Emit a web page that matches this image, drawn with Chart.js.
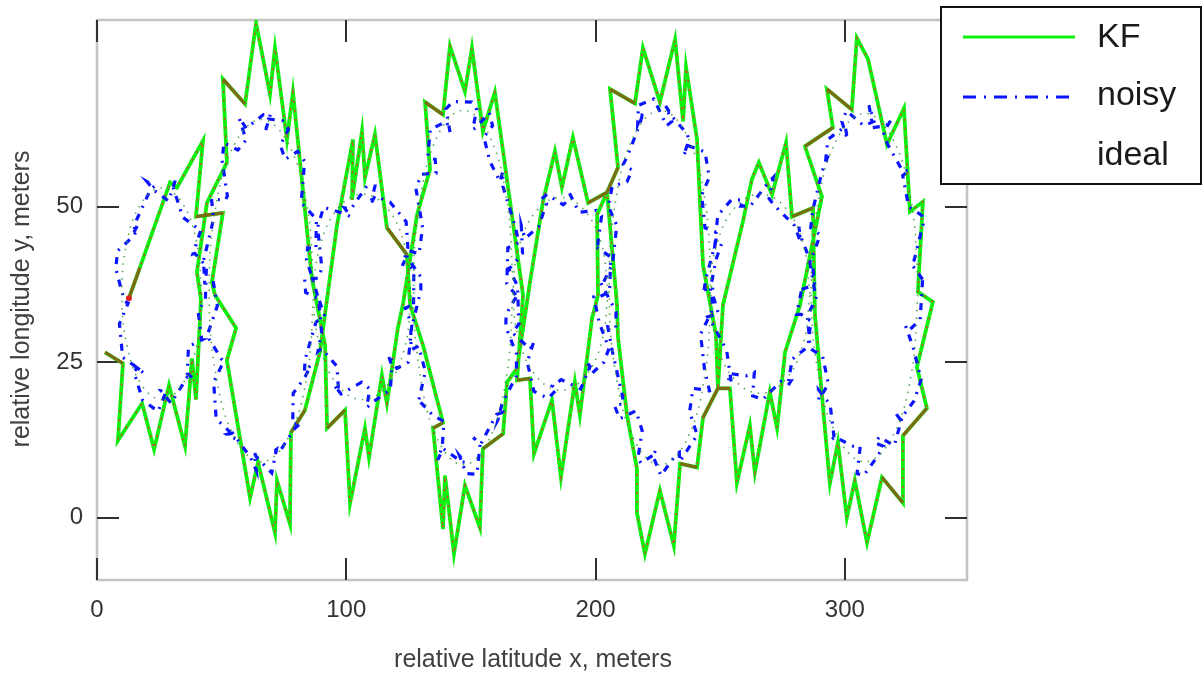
<!DOCTYPE html>
<html lang="en">
<head>
<meta charset="UTF-8">
<title>KF track</title>
<script src="https://cdn.jsdelivr.net/npm/chart.js@4"></script>
<style>
    html, body { margin: 0; padding: 0; background: #fff; }
    #wrap { width: 1204px; height: 675px; }
</style>
</head>
<body>
<div id="wrap"><canvas id="trackChart" width="1204" height="675"></canvas></div>
<script>
// axis ticks
const xTicks = [0, 100, 200, 300];
const yTicks = [0, 25, 50];

// KF estimate, outbound pass (small loop tops, big loop bottoms)
const kfOut = [
    [12.8,35.3],[17.2,40.2],[29.3,53.9],[32.1,53.1],[42.5,60.6],[39.7,48.4],[50.5,49.0],[46.1,37.9],
    [47.3,35.8],[55.8,30.5],[52.1,25.3],[61.4,3.2],[64.6,8.9],[71.4,-2.4],[72.2,6.0],[77.4,-1.0],
    [77.8,13.7],[83.4,17.3],[89.4,26.6],[96.3,47.1],[102.7,60.8],[102.3,51.1],[106.3,62.1],[107.5,54.7],
    [111.5,61.6],[116.3,46.6],[124.3,42.3],[125.6,34.2],[130.8,27.7],[138.8,15.3],[134.8,14.4],[138.8,-1.8],
    [139.6,6.8],[143.2,-5.8],[147.6,5.2],[153.6,-1.6],[154.8,11.1],[162.9,13.5],[164.5,21.8],[168.5,24.0],
    [173.7,37.9],[178.9,50.8],[183.7,58.9],[186.5,53.1],[190.9,61.1],[197.0,50.6],[204.6,52.3],[208.6,34.2],
    [209.0,29.0],[212.6,16.5],[216.6,7.9],[216.6,0.8],[219.8,-5.8],[225.8,4.4],[231.4,-4.5],[233.9,8.7],
    [240.7,8.1],[243.1,16.1],[249.1,20.8],[251.1,34.2],[259.1,47.6],[262.7,54.4],[265.5,57.1],[270.8,51.9],
    [276.4,60.3],[278.8,48.4],[287.2,49.8],[288.0,32.6],[290.8,19.7],[294.0,5.5],[297.2,12.1],[300.8,0.0],
    [304.0,6.0],[308.9,-4.0],[314.9,6.5],[323.3,2.4],[323.3,13.2],[332.9,17.6],[328.9,24.2],[335.3,34.7]
];

// KF estimate, return pass (big loop tops, small loop bottoms)
const kfBack = [
    [329.3,36.3],[331.3,50.8],[326.1,49.2],[323.7,65.8],[316.9,60.0],[309.3,73.7],[304.8,77.1],[302.8,65.6],
    [292.8,68.9],[295.2,62.7],[284.0,59.7],[290.8,51.6],[282.0,34.2],[276.0,26.6],[272.8,14.4],[269.9,20.2],
    [263.9,7.3],[261.9,14.8],[256.7,5.6],[253.9,20.8],[249.1,20.8],[248.3,29.4],[243.1,40.6],[240.7,60.8],
    [236.3,72.4],[235.1,63.7],[231.9,76.9],[225.8,66.8],[219.0,75.5],[215.8,66.6],[205.8,68.9],[209.0,56.3],
    [204.6,52.3],[200.6,48.7],[201.0,35.8],[198.6,32.1],[193.7,16.5],[191.7,21.8],[186.1,6.5],[182.5,18.9],
    [175.3,10.3],[173.7,22.4],[168.5,22.1],[170.9,35.8],[159.6,68.4],[154.8,62.1],[150.4,75.5],[147.6,68.5],
    [141.6,75.8],[138.8,64.8],[131.6,66.8],[133.6,56.0],[128.4,48.7],[122.7,34.2],[120.7,30.5],[116.3,18.4],
    [114.3,22.9],[109.1,9.7],[107.5,14.4],[101.5,2.3],[99.5,17.3],[92.3,14.4],[91.5,27.7],[86.2,38.5],
    [78.6,68.4],[76.2,60.8],[71.4,75.5],[69.4,68.1],[63.8,79.5],[59.4,66.5],[50.5,70.5],[52.1,57.1],
    [44.1,50.6],[40.1,39.5],[41.7,35.0],[39.7,19.0],[38.1,25.6],[35.3,11.5],[28.9,21.3],[22.9,11.0],
    [18.1,18.4],[8.4,12.4],[10.4,24.8],[3.2,26.6]
];

// short stretches where the KF trace looks olive (overlapping marks)
const kfOverlap = [
    [3.2,26.6],[10.4,24.8], null, [12.8,35.3],[17.2,40.2], null, [39.7,48.4],[50.5,49.0], null,
    [50.5,70.5],[59.4,66.5], null, [77.8,13.7],[83.4,17.3], null, [92.3,14.4],[99.5,17.3], null,
    [116.3,46.6],[124.3,42.3], null, [131.6,66.8],[138.8,64.8], null, [134.8,14.4],[138.8,15.3], null,
    [154.8,11.1],[162.9,13.5], null, [168.5,22.1],[173.7,22.4], null, [197.0,50.6],[204.6,52.3],[209.0,56.3], null,
    [205.8,68.9],[215.8,66.6], null, [233.9,8.7],[240.7,8.1], null, [243.1,16.1],[249.1,20.8],[253.9,20.8], null,
    [278.8,48.4],[287.2,49.8], null, [284.0,59.7],[295.2,62.7], null, [292.8,68.9],[302.8,65.6], null,
    [314.9,6.5],[323.3,2.4], null, [323.3,13.2],[332.9,17.6]
];

const startPoint = [12.8, 35.3];

// noisy measurements, loop by loop
const noisyPts = [
    [43.5,35.2],[43.9,40.4],[39.2,42.5],[38.5,42.4],[41.7,46.3],[41.1,46.3],[34.4,48.3],[30.4,53.3],[31.4,54.2],[28.7,50.9],
    [23.0,52.6],[20.1,54.0],[23.1,53.3],[21.5,52.8],[15.8,47.8],[14.5,45.6],[16.1,46.9],[15.0,45.4],[8.3,42.9],[7.5,40.1],
    [11.0,34.8],[12.5,34.5],[9.0,31.2],[10.3,25.8],[15.5,24.3],[18.9,23.2],[16.2,24.1],[14.8,23.5],[18.3,18.9],[24.5,17.1],
    [27.7,20.3],[25.7,20.4],[29.7,18.4],[36.2,22.6],[38.6,22.4],[36.2,23.2],[36.7,27.5],[42.2,28.6],[42.0,28.6],[40.6,33.1],[43.5,35.2],
    null,
    [88.5,35.7],[84.0,41.6],[84.5,43.4],[87.8,43.2],[88.0,48.0],[82.0,50.6],[82.0,51.2],[83.3,57.3],[80.5,58.9],[75.5,57.6],
    [73.5,59.9],[76.8,62.4],[74.5,63.8],[68.8,64.1],[67.4,61.9],[69.6,64.9],[66.8,64.8],[59.9,62.6],[57.0,64.3],[59.8,60.7],
    [56.5,59.1],[50.9,60.3],[50.2,57.4],[52.3,51.7],[51.4,51.0],[45.9,51.3],[46.4,49.6],[46.6,47.7],[42.7,41.3],[43.2,37.8],
    [46.7,37.8],[48.3,34.1],[44.3,29.4],[45.0,28.7],[50.0,25.5],[50.9,25.2],[46.8,21.8],[47.8,15.9],[52.8,14.0],[55.5,12.7],
    [52.2,13.4],[54.4,13.6],[61.6,9.7],[63.9,7.6],[63.2,10.5],[63.7,9.9],[70.1,7.2],[72.0,11.0],[69.9,10.4],[73.2,10.6],
    [79.4,14.4],[81.8,15.2],[78.5,15.0],[78.7,20.0],[83.3,22.5],[85.8,24.5],[83.2,23.5],[83.5,25.5],[87.8,31.4],[91.2,32.6],[88.5,35.7],
    null,
    [127.0,34.3],[127.1,39.9],[123.2,41.1],[122.5,40.5],[124.7,43.5],[124.0,47.6],[117.6,50.7],[111.5,51.7],[109.7,50.3],[111.5,53.3],
    [108.2,53.3],[101.8,49.6],[99.3,49.8],[101.8,48.4],[98.2,49.0],[90.9,49.9],[88.5,46.7],[90.2,40.1],[88.8,38.5],[83.3,38.4],
    [83.7,36.2],[88.9,35.2],[90.1,29.8],[88.6,26.7],[90.1,27.2],[96.3,24.3],[96.9,20.3],[95.2,21.3],[97.9,19.9],[106.2,21.8],
    [109.4,20.7],[108.2,17.7],[111.0,18.7],[117.7,20.6],[118.3,24.4],[116.8,26.2],[120.3,24.0],[124.8,25.0],[126.3,31.0],[123.7,33.7],[127.0,34.3],
    null,
    [168.0,35.8],[164.4,37.6],[164.8,43.4],[169.3,44.2],[167.7,46.9],[162.8,53.3],[162.8,55.7],[161.7,54.0],[157.6,57.3],[155.2,61.2],
    [158.7,63.0],[157.4,65.1],[152.0,62.7],[150.7,62.4],[152.3,65.6],[150.3,66.8],[142.7,66.9],[140.0,65.7],[141.6,62.0],[140.2,63.7],
    [133.7,62.4],[132.7,58.0],[135.7,57.6],[136.0,55.4],[130.2,55.2],[127.9,53.0],[130.6,46.7],[129.2,42.4],[124.8,43.0],[124.4,41.9],
    [129.9,38.7],[129.9,36.6],[125.9,30.0],[126.0,27.0],[129.0,27.6],[131.7,23.5],[128.8,18.4],[129.7,18.6],[134.9,16.4],[139.2,15.5],
    [138.5,11.5],[136.7,9.3],[138.8,11.1],[146.3,9.0],[147.7,8.9],[145.4,10.0],[148.1,7.1],[152.4,7.0],[153.7,11.9],[150.9,12.9],
    [154.0,11.9],[160.2,16.6],[162.4,16.9],[160.9,15.8],[162.4,18.2],[168.2,22.8],[168.3,26.3],[164.0,30.7],[164.1,32.7],[168.6,35.8],[168.0,35.8],
    null,
    [202.0,35.6],[205.6,36.3],[206.1,41.9],[200.4,43.5],[200.6,43.1],[202.4,48.5],[200.2,49.4],[193.3,49.1],[189.4,52.3],[191.0,51.8],
    [187.0,50.3],[180.5,52.0],[178.3,51.2],[180.3,50.5],[177.2,46.8],[171.7,44.9],[170.2,47.0],[170.7,42.5],[165.1,39.9],[164.4,40.6],
    [168.7,37.3],[169.2,31.1],[166.7,29.8],[167.3,29.5],[173.8,27.1],[175.2,28.3],[172.6,25.0],[175.3,20.3],[180.9,19.2],[184.6,20.7],
    [182.7,21.2],[186.2,22.2],[194.0,20.7],[197.8,24.3],[196.6,24.9],[198.0,23.0],[203.3,25.0],[205.4,27.2],[201.5,31.3],[199.3,35.5],[202.0,35.6],
    null,
    [243.5,36.6],[244.3,38.5],[248.0,44.0],[248.8,45.8],[243.9,46.6],[242.6,51.9],[245.6,54.7],[243.9,58.8],[237.2,59.8],[235.3,58.2],
    [237.3,60.5],[236.9,61.6],[230.5,64.6],[228.1,66.2],[230.6,63.7],[228.5,63.0],[223.4,67.3],[217.2,66.3],[216.9,63.2],[219.2,65.3],
    [217.5,63.0],[212.8,58.1],[211.1,56.8],[214.7,55.9],[212.6,54.0],[206.7,53.3],[205.1,50.1],[208.5,47.0],[206.8,40.8],[202.5,37.3],
    [202.2,37.7],[208.2,33.1],[208.1,30.5],[204.9,30.7],[206.7,26.8],[210.5,20.1],[211.3,18.3],[207.5,18.1],[209.7,15.9],[216.2,17.2],
    [218.7,14.0],[217.0,9.6],[218.2,8.8],[224.0,10.3],[224.1,10.8],[223.0,10.0],[226.2,6.8],[232.4,10.2],[233.6,10.5],[233.7,9.0],
    [237.8,11.5],[240.8,13.3],[237.7,17.0],[239.1,20.8],[245.4,20.5],[246.1,19.7],[243.7,23.9],[242.1,29.5],[246.5,33.1],[247.0,37.1],[243.5,36.6],
    null,
    [282.7,36.7],[287.9,37.5],[287.1,40.3],[281.9,45.6],[281.6,46.8],[282.2,44.4],[279.7,47.0],[271.7,50.2],[269.6,51.3],[271.3,54.7],
    [268.9,53.7],[262.1,50.1],[258.3,50.1],[259.2,51.1],[254.5,51.1],[249.0,48.6],[247.8,43.6],[250.6,44.1],[248.3,41.5],[245.9,36.4],
    [247.5,35.2],[249.3,32.8],[245.0,32.3],[246.3,31.6],[252.6,26.9],[254.4,21.8],[253.2,21.6],[253.8,23.2],[260.3,22.8],[263.7,23.4],
    [263.0,19.6],[267.1,19.0],[274.2,21.9],[278.4,22.0],[277.0,21.1],[278.9,25.5],[285.2,27.5],[286.4,31.6],[282.5,32.7],[280.6,32.7],[282.7,36.7],
    null,
    [331.2,38.3],[326.5,40.9],[327.8,41.4],[331.4,47.2],[330.9,48.6],[325.6,50.0],[323.2,55.0],[326.0,55.9],[323.2,55.7],[317.2,60.0],
    [315.5,61.9],[318.6,64.0],[316.7,63.0],[311.2,62.7],[309.7,66.3],[311.7,63.7],[307.6,63.0],[300.7,65.4],[298.8,63.7],[301.0,60.8],
    [300.2,62.9],[293.2,60.8],[292.1,56.7],[293.5,58.4],[290.9,55.7],[287.1,49.4],[286.3,46.6],[290.1,45.5],[288.3,43.4],[286.0,41.0],
    [288.0,36.2],[289.0,35.8],[285.0,32.4],[286.1,27.2],[291.1,25.9],[293.4,21.5],[289.6,19.0],[289.4,20.6],[294.1,18.2],[295.7,12.8],
    [294.3,12.4],[295.9,13.0],[303.4,11.5],[306.2,11.5],[304.9,7.1],[307.6,6.8],[313.3,10.0],[315.5,11.5],[312.1,12.0],[313.8,13.0],
    [319.8,11.6],[322.7,15.7],[320.6,16.7],[322.2,15.8],[327.8,18.8],[330.6,22.2],[327.3,27.5],[324.3,30.9],[326.2,30.3],[330.2,31.8],[331.2,38.3]
];

// ideal track, loop by loop
const idealPts = [
    [42,36],[39.9,44.5],[34,50.7],[26,53],[18,50.7],[12.1,44.5],[10,36],[12.1,27.5],[18,21.3],[26,19],[34,21.3],[39.9,27.5],[42,36],
    null,
    [87,36.5],[84.2,50.3],[76.5,60.3],[66,64],[55.5,60.3],[47.8,50.3],[45,36.5],[47.8,22.8],[55.5,12.7],[66,9],[76.5,12.7],[84.2,22.8],[87,36.5],
    null,
    [126,35.5],[123.4,43.8],[116.3,49.8],[106.5,52],[96.8,49.8],[89.6,43.8],[87,35.5],[89.6,27.3],[96.8,21.2],[106.5,19],[116.3,21.2],[123.4,27.3],[126,35.5],
    null,
    [167,37],[164.3,51.3],[157,61.7],[147,65.5],[137,61.7],[129.7,51.3],[127,37],[129.7,22.8],[137,12.3],[147,8.5],[157,12.3],[164.3,22.8],[167,37],
    null,
    [205,36],[202.5,43.8],[195.5,49.4],[186,51.5],[176.5,49.4],[169.5,43.8],[167,36],[169.5,28.3],[176.5,22.6],[186,20.5],[195.5,22.6],[202.5,28.3],[205,36],
    null,
    [246.5,37],[243.8,51.3],[236.3,61.7],[226,65.5],[215.8,61.7],[208.2,51.3],[205.5,37],[208.2,22.8],[215.8,12.3],[226,8.5],[236.3,12.3],[243.8,22.8],[246.5,37],
    null,
    [286,36],[283.3,44],[276,49.9],[266,52],[256,49.9],[248.7,44],[246,36],[248.7,28],[256,22.1],[266,20],[276,22.1],[283.3,28],[286,36],
    null,
    [329.5,37],[326.6,51],[318.8,61.2],[308,65],[297.3,61.2],[289.4,51],[286.5,37],[289.4,23],[297.3,12.8],[308,9],[318.8,12.8],[326.6,23],[329.5,37]
];

const fontFamily = '"Liberation Sans", Arial, sans-serif';

// [x, y] pairs -> chart points, null breaks the line
function toXY(list) {
    let lastX = 0;
    return list.map(p => {
        if (p === null) return {x: lastX, y: null};
        lastX = p[0];
        return {x: p[0], y: p[1]};
    });
}

const kfData = toXY(kfOut.concat(kfBack));

// frame, inward ticks, labels and the boxed legend
const axisDecor = {
    id: 'axisDecor',
    beforeDatasetsDraw(chart) {
        const ctx = chart.ctx, a = chart.chartArea;
        const sx = chart.scales.x, sy = chart.scales.y;
        ctx.save();
        ctx.strokeStyle = '#c4c4c4';
        ctx.lineWidth = 2.5;
        ctx.strokeRect(a.left, a.top, a.right - a.left, a.bottom - a.top);
        ctx.strokeStyle = '#303030';
        ctx.lineWidth = 2;
        ctx.beginPath();
        xTicks.forEach(v => {
            const px = Math.round(sx.getPixelForValue(v));
            ctx.moveTo(px, a.bottom); ctx.lineTo(px, a.bottom - 22);
            ctx.moveTo(px, a.top); ctx.lineTo(px, a.top + 22);
        });
        yTicks.forEach(v => {
            const py = Math.round(sy.getPixelForValue(v));
            ctx.moveTo(a.left, py); ctx.lineTo(a.left + 22, py);
            ctx.moveTo(a.right, py); ctx.lineTo(a.right - 22, py);
        });
        ctx.stroke();
        ctx.restore();
    },
    afterDraw(chart) {
        const ctx = chart.ctx;
        const sx = chart.scales.x, sy = chart.scales.y;
        ctx.save();
        ctx.fillStyle = '#333';
        ctx.font = '24px ' + fontFamily;
        ctx.textAlign = 'center';
        ctx.textBaseline = 'middle';
        xTicks.forEach(v => ctx.fillText(String(v), sx.getPixelForValue(v), 610));
        ctx.textAlign = 'right';
        yTicks.forEach(v => ctx.fillText(String(v), 83, sy.getPixelForValue(v)));

        ctx.fillStyle = '#404040';
        ctx.font = '25px ' + fontFamily;
        ctx.textAlign = 'center';
        ctx.fillText('relative latitude x, meters', 533, 660);
        ctx.save();
        ctx.translate(22, 299);
        ctx.rotate(-Math.PI / 2);
        ctx.fillText('relative longitude y, meters', 0, 0);
        ctx.restore();

        // legend
        ctx.fillStyle = '#fff';
        ctx.fillRect(940, 6, 263, 179);
        ctx.strokeStyle = '#111';
        ctx.lineWidth = 2;
        ctx.strokeRect(941, 7, 260, 177);
        ctx.lineWidth = 3;
        ctx.strokeStyle = '#0ef00e';
        ctx.beginPath(); ctx.moveTo(963, 37); ctx.lineTo(1075, 37); ctx.stroke();
        ctx.strokeStyle = '#0a14ff';
        ctx.setLineDash([13, 8, 2, 8]);
        ctx.beginPath(); ctx.moveTo(963, 97); ctx.lineTo(1075, 97); ctx.stroke();
        ctx.setLineDash([]);
        ctx.fillStyle = '#1a1a1a';
        ctx.font = '34px ' + fontFamily;
        ctx.textAlign = 'left';
        ctx.textBaseline = 'alphabetic';
        ctx.fillText('KF', 1097, 47);
        ctx.fillText('noisy', 1097, 105);
        ctx.fillText('ideal', 1097, 165);
        ctx.restore();
    }
};

const ctx = document.getElementById('trackChart').getContext('2d');
const trackChart = new Chart(ctx, {
    type: 'scatter',
    data: {
        datasets: [
            {label: 'ideal', data: toXY(idealPts), showLine: true, pointRadius: 0,
             borderColor: 'rgba(60,150,60,0.85)', borderWidth: 1.6, borderDash: [1.5, 6], tension: 0.4, order: 1},
            {label: 'noisy', data: toXY(noisyPts), showLine: true, pointRadius: 0,
             borderColor: '#0a14ff', borderWidth: 3.2, borderDash: [7, 7, 2, 7], order: 2},
            {label: 'start', data: [{x: startPoint[0], y: startPoint[1]}], showLine: false,
             pointRadius: 3, backgroundColor: '#e02020', borderWidth: 0, order: 3},
            {label: 'overlap', data: toXY(kfOverlap), showLine: true, pointRadius: 0,
             borderColor: '#7d6a14', borderWidth: 3.2, order: 4},
            {label: 'kf dots', data: kfData, showLine: true, pointRadius: 0,
             borderColor: '#d8403a', borderWidth: 1.5, borderDash: [2, 7], order: 5},
            {label: 'KF', data: kfData, showLine: true, pointRadius: 0,
             borderColor: '#0ef00e', borderWidth: 3.8, order: 6}
        ]
    },
    options: {
        responsive: false,
        animation: false,
        layout: {padding: {left: 97, right: 237, top: 20, bottom: 95}},
        scales: {
            x: {type: 'linear', min: 0, max: 349, display: false},
            y: {type: 'linear', min: -10, max: 80, display: false}
        },
        plugins: {
            legend: {display: false},
            tooltip: {enabled: false}
        }
    },
    plugins: [axisDecor]
});
</script>
</body>
</html>
